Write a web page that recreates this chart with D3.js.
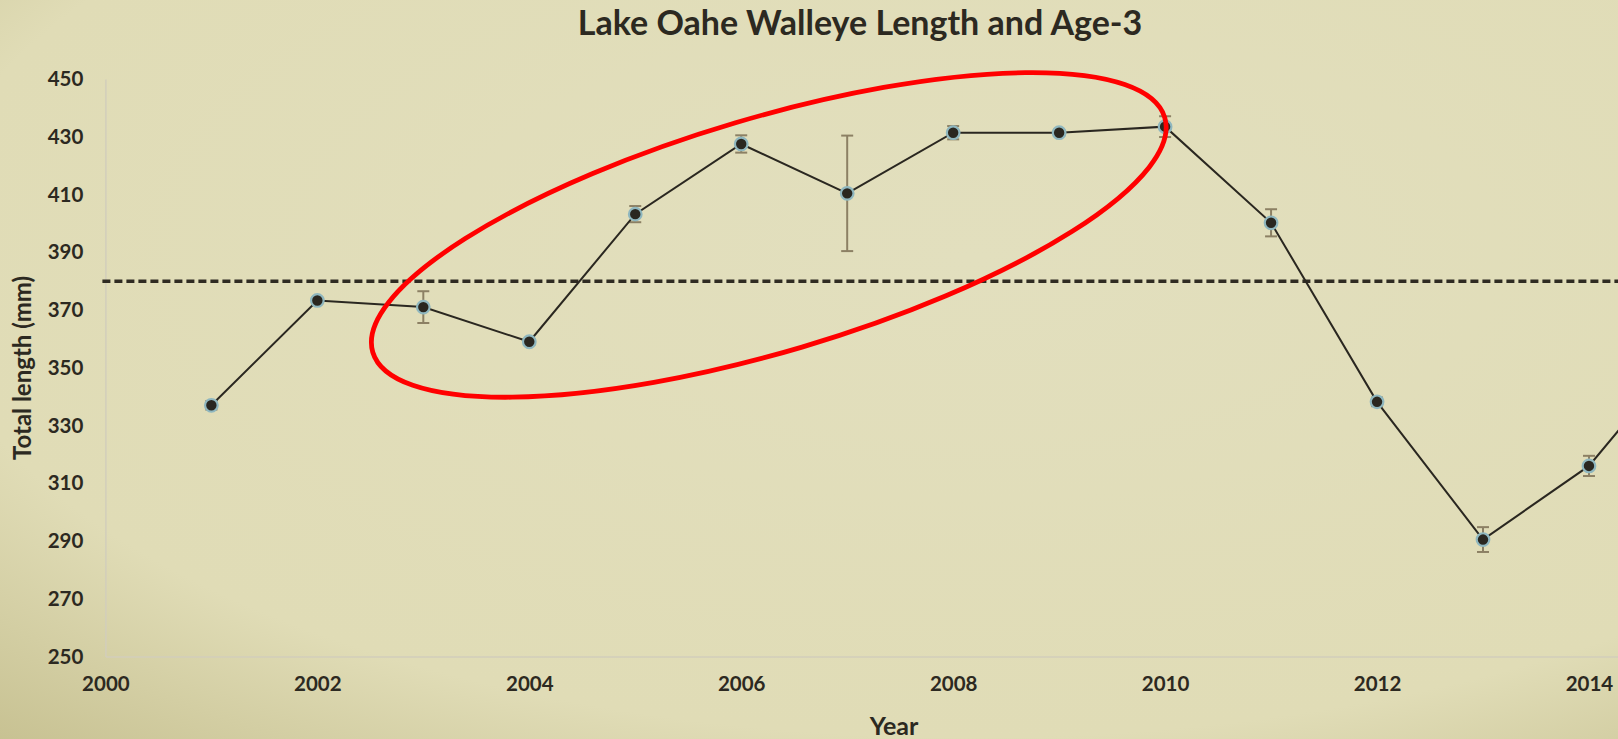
<!DOCTYPE html>
<html>
<head>
<meta charset="utf-8">
<title>Lake Oahe Walleye Length and Age-3</title>
<script src="https://d3js.org/d3.v7.min.js"></script>
<style>
  html, body { margin: 0; padding: 0; background: #e1ddb9; overflow: hidden; }
  text { font-family: Lato, "Open Sans", sans-serif; font-weight: 700; fill: #2c2921; }
  .axis path { stroke: #d2cebb; stroke-width: 1.5; fill: none; }
  .axis line { display: none; }
  .axis text { font-size: 20.5px; }
</style>
</head>
<body>
<script>
// data
var years   = [2001, 2002, 2003, 2004, 2005, 2006, 2007, 2008, 2009, 2010, 2011, 2012, 2013, 2014, 2015];
var lengths = [337, 373.3, 371, 359, 403.2, 427.5, 410.4, 431.4, 431.4, 433.5, 400.2, 338.2, 290.5, 316, 360];
var errors  = [1.5, 1, 5.5, 1, 2.8, 3, 20, 2.3, 1, 3.6, 4.7, 1.5, 4.3, 3.5, 3];
var yTicks  = [250, 270, 290, 310, 330, 350, 370, 390, 410, 430, 450];
var xTicks  = [2000, 2002, 2004, 2006, 2008, 2010, 2012, 2014, 2016];
var target  = 380;
// the red ring drawn round 2003-2010
var ring = { year: 2006.26, value: 396, rx: 413, ry: 117, angle: -16.5 };

var w = 1618, h = 739;
var x = d3.scaleLinear().domain([2000, 2016]).range([105.4, 105.4 + 16 * 105.97]);
var y = d3.scaleLinear().domain([250, 450]).range([656.5, 79]);

var svg = d3.select('body').append('svg')
    .attr('width', w)
    .attr('height', h);

var defs = svg.append('defs');
var grad = defs.append('radialGradient')
    .attr('id', 'bg')
    .attr('cx', '60%').attr('cy', '35%').attr('r', '90%');
grad.append('stop').attr('offset', '0%').attr('stop-color', '#e2dfbe');
grad.append('stop').attr('offset', '72%').attr('stop-color', '#e0dcb6');
grad.append('stop').attr('offset', '100%').attr('stop-color', '#c6c090');

svg.append('rect')
    .attr('width', w).attr('height', h)
    .attr('fill', 'url(#bg)');

// axes
var yAxis = d3.axisLeft(y).tickValues(yTicks).tickSize(0).tickPadding(22);
svg.append('g')
    .attr('class', 'axis')
    .attr('transform', 'translate(' + x(2000) + ',0)')
    .call(yAxis);

var xAxis = d3.axisBottom(x).tickValues(xTicks).tickSize(0).tickPadding(20)
    .tickFormat(d3.format('d'));
svg.append('g')
    .attr('class', 'axis')
    .attr('transform', 'translate(0,' + y(250) + ')')
    .call(xAxis);

// target line
svg.append('line')
    .attr('x1', x(2000) - 3).attr('x2', w)
    .attr('y1', y(target)).attr('y2', y(target))
    .attr('stroke', '#2f2b22')
    .attr('stroke-width', 3.5)
    .attr('stroke-dasharray', '8,4');

var data = years.map(function (d, i) { return { year: d, len: lengths[i], err: errors[i] }; });

// error bars
var eb = svg.append('g')
    .attr('stroke', '#8c8064')
    .attr('stroke-width', 2);
eb.selectAll('line.v').data(data).enter().append('line')
    .attr('class', 'v')
    .attr('x1', function (d) { return x(d.year); })
    .attr('x2', function (d) { return x(d.year); })
    .attr('y1', function (d) { return y(d.len - d.err); })
    .attr('y2', function (d) { return y(d.len + d.err); });
[-1, 1].forEach(function (s) {
    eb.selectAll('line.c' + (s + 1)).data(data).enter().append('line')
        .attr('class', 'c' + (s + 1))
        .attr('x1', function (d) { return x(d.year) - 6; })
        .attr('x2', function (d) { return x(d.year) + 6; })
        .attr('y1', function (d) { return y(d.len + s * d.err); })
        .attr('y2', function (d) { return y(d.len + s * d.err); });
});

// series line
var line = d3.line()
    .x(function (d) { return x(d.year); })
    .y(function (d) { return y(d.len); });
svg.append('path')
    .datum(data)
    .attr('fill', 'none')
    .attr('stroke', '#2a2720')
    .attr('stroke-width', 2)
    .attr('d', line);

svg.selectAll('circle.dot')
    .data(data)
    .enter()
    .append('circle')
    .attr('class', 'dot')
    .attr('cx', function (d) { return x(d.year); })
    .attr('cy', function (d) { return y(d.len); })
    .attr('r', 6.3)
    .attr('fill', '#2a2720')
    .attr('stroke', '#8fb7bf')
    .attr('stroke-width', 2.2);

// red ring
svg.append('ellipse')
    .attr('transform', 'translate(' + x(ring.year) + ',' + y(ring.value) + ') rotate(' + ring.angle + ')')
    .attr('rx', ring.rx)
    .attr('ry', ring.ry)
    .attr('fill', 'none')
    .attr('stroke', '#ff0000')
    .attr('stroke-width', 4.8);

// titles
svg.append('text')
    .attr('x', 860).attr('y', 35)
    .attr('text-anchor', 'middle')
    .style('font-size', '34px')
    .text('Lake Oahe Walleye Length and Age-3');

svg.append('text')
    .attr('x', 894).attr('y', 735)
    .attr('text-anchor', 'middle')
    .style('font-size', '25px')
    .text('Year');

svg.append('text')
    .attr('transform', 'translate(31,368) rotate(-90)')
    .attr('text-anchor', 'middle')
    .style('font-size', '24px')
    .text('Total length (mm)');
</script>
</body>
</html>
